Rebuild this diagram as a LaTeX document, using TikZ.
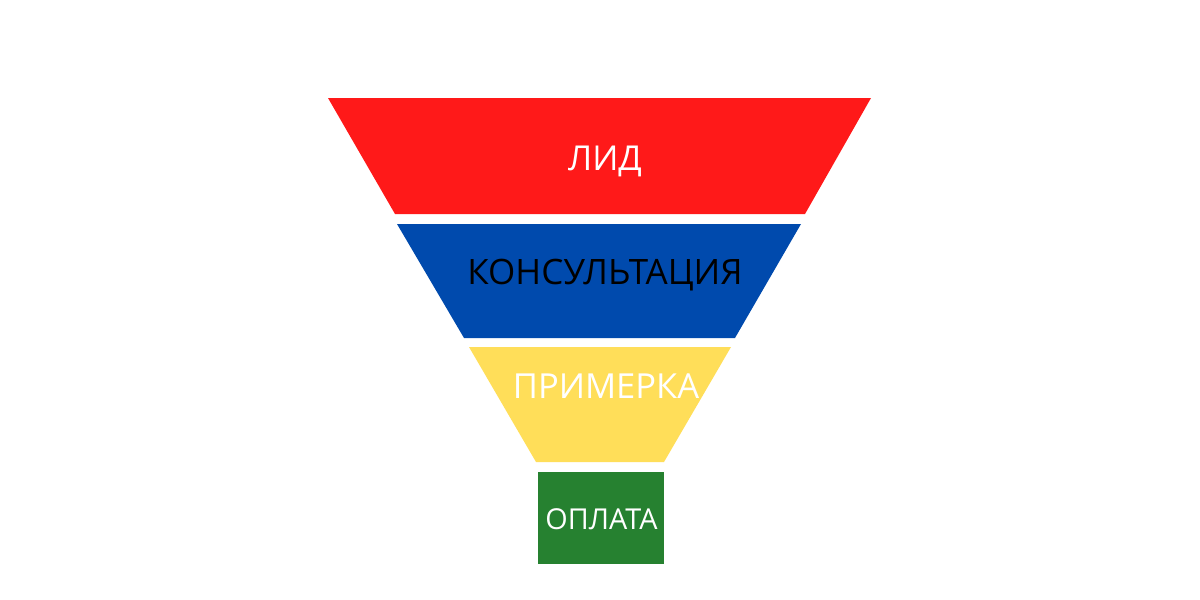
\documentclass[tikz,border=0pt]{standalone}
\usepackage{fontspec}
\setmainfont{Open Sans}
\definecolor{fred}{RGB}{255,25,25}
\definecolor{fblue}{RGB}{0,74,173}
\definecolor{fyellow}{RGB}{255,222,89}
\definecolor{fgreen}{RGB}{38,129,48}
\tikzset{
  lbl/.style={anchor=base, inner sep=0pt, font=\fontsize{#1}{#1}\selectfont},
}
\begin{document}
\begin{tikzpicture}[x=1pt,y=-1pt]
\useasboundingbox[fill=white] (0,0) rectangle (1200,600);
\fill[fred] (328,98) -- (871,98) -- (805,214) -- (395,214) -- cycle;
\fill[fblue] (397,224) -- (801,224) -- (735,338) -- (464,338) -- cycle;
\fill[fyellow] (469,347) -- (731,347) -- (664,462) -- (536,462) -- cycle;
\fill[fgreen] (538,472) rectangle (664,564);
\node[lbl=34.3, text=white] (lid) at (605,170) {ЛИД};
\node[lbl=35, text=black] (kons) at (605,284) {КОНСУЛЬТАЦИЯ};
\node[lbl=34.5, text=white] (prim) at (606,398) {ПРИМЕРКА};
\node[lbl=28.8, text=white] (opl) at (601.5,529) {ОПЛАТА};
\end{tikzpicture}
\end{document}
